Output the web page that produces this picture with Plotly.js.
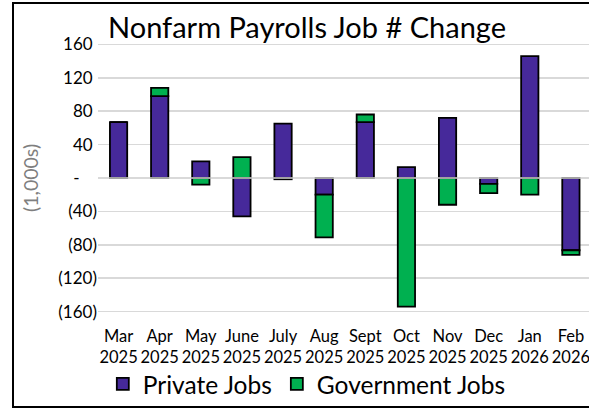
<!DOCTYPE html>
<html>
<head>
<meta charset="utf-8">
<script src="https://cdn.plot.ly/plotly-3.0.1.min.js"></script>
<style>
  html, body { margin: 0; padding: 0; background: #fff; overflow: hidden; }
  #wrap { position: relative; width: 589px; height: 410px; overflow: hidden; }
  #chart { width: 589px; height: 410px; }
  #frame { position: absolute; left: 12px; top: 2px; width: 620px; height: 402px; border: 2px solid #000; pointer-events: none; }
</style>
</head>
<body>
<div id="wrap"><div id="chart"></div><div id="frame"></div></div>
<script>
const months = ["Mar<br>2025", "Apr<br>2025", "May<br>2025", "June<br>2025", "July<br>2025", "Aug<br>2025",
                "Sept<br>2025", "Oct<br>2025", "Nov<br>2025", "Dec<br>2025", "Jan<br>2026", "Feb<br>2026"];
const privateJobs = [67, 98, 20, -46, 65, -20, 67, 13, 72, -7, 146, -86.5];
const governmentJobs = [0, 10, -8, 25, -1.5, -51, 9, -154, -32, -11, -20, -5.5];
const yTickVals = [160, 120, 80, 40, 0, -40, -80, -120, -160];
const yTickText = ["160\u00A0", "120\u00A0", "80\u00A0", "40\u00A0", "-\u00A0\u00A0\u00A0\u00A0", "(40)", "(80)", "(120)", "(160)"];

const font = "Lato, 'Open Sans', sans-serif";
const traces = [
  { type: "bar", name: "Private Jobs", x: months, y: privateJobs,
    marker: { color: "#46299A", line: { color: "#000", width: 1.8 } } },
  { type: "bar", name: "Government Jobs", x: months, y: governmentJobs,
    marker: { color: "#00B050", line: { color: "#000", width: 1.8 } } }
];
const layout = {
  width: 589, height: 410,
  margin: { l: 98, r: 0, t: 41, b: 95 },
  paper_bgcolor: "rgba(0,0,0,0)", plot_bgcolor: "rgba(0,0,0,0)",
  barmode: "relative", bargap: 0.58,
  font: { family: font, color: "#000" },
  title: { text: "Nonfarm Payrolls Job # Change", font: { family: font, size: 29, color: "#000" },
           x: 108 / 589, xanchor: "left", xref: "container", y: 1 - 27.5 / 410, yanchor: "middle", yref: "container" },
  xaxis: { type: "category", range: [-0.5, 11.44], showgrid: false, zeroline: false, showline: false,
           ticks: "", tickfont: { family: font, size: 16.5, color: "#000" }, ticklabelstandoff: 9, fixedrange: true },
  yaxis: { range: [-164, 164], tickvals: yTickVals, ticktext: yTickText, showgrid: true, gridcolor: "#D9D9D9",
           gridwidth: 1.5, zeroline: false, showline: false, ticks: "",
           tickfont: { family: font, size: 17, color: "#000" }, ticklabelstandoff: 19.5, fixedrange: true },
  annotations: [{ text: "(1,000s)", textangle: -90, xref: "paper", yref: "paper", x: (30 - 98) / 491, y: 0.5,
                  xanchor: "center", yanchor: "middle", showarrow: false,
                  font: { family: font, size: 19.5, color: "#7F7F7F" } }],
  shapes: [{ type: "line", xref: "paper", yref: "y", x0: 0, x1: 1, y0: 0, y1: 0, layer: "above",
             line: { color: "#D9D9D9", width: 1.5 } }],
  showlegend: true,
  legend: { orientation: "h", x: 0.0098, xanchor: "left", y: -0.252, yanchor: "middle",
            font: { family: font, size: 24.5, color: "#000" }, bgcolor: "rgba(0,0,0,0)", traceorder: "normal" }
};
Plotly.newPlot("chart", traces, layout, { displayModeBar: false, staticPlot: true });
</script>
</body>
</html>
